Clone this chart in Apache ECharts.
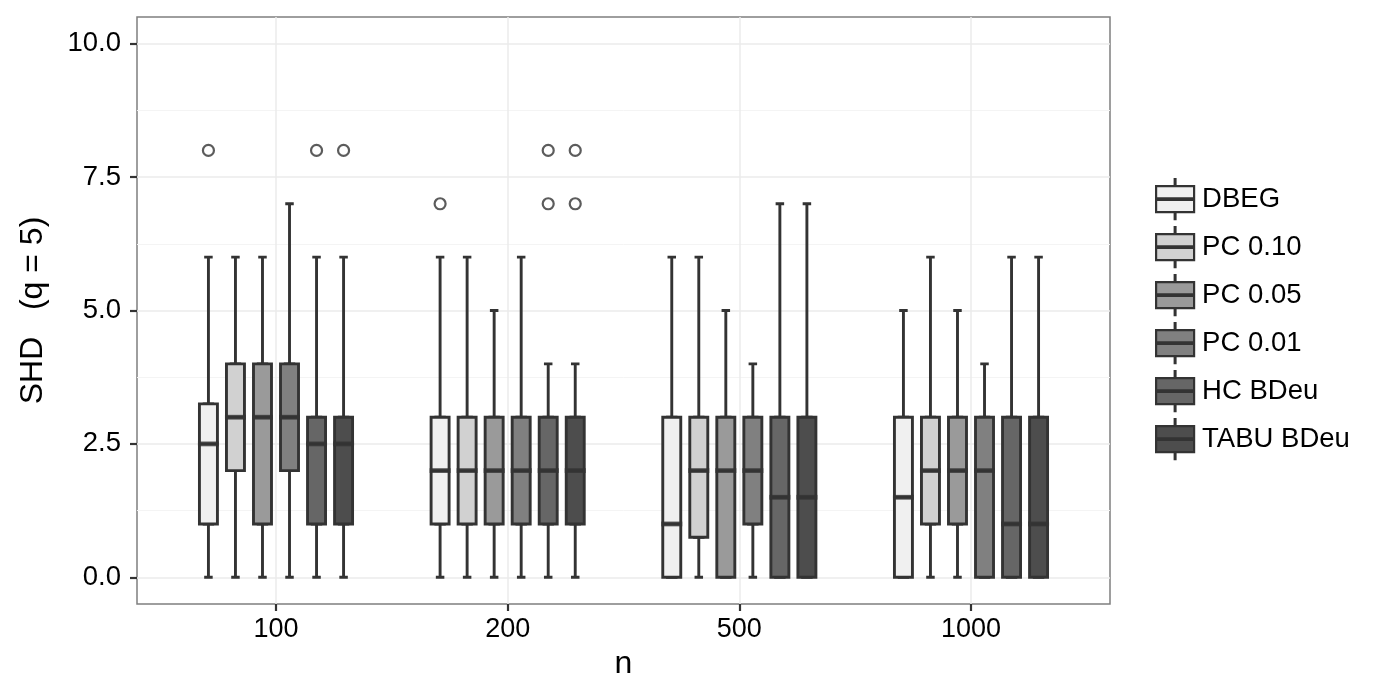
<!DOCTYPE html>
<html>
<head>
<meta charset="utf-8">
<script src="https://cdn.jsdelivr.net/npm/echarts@6/dist/echarts.min.js"></script>
<style>
html,body{margin:0;padding:0;background:#fff;}
#chart{width:1400px;height:700px;}
</style>
</head>
<body>
<div id="chart"></div>
<script>
// ---- data ----
const categories = ['100', '200', '500', '1000'];
const methods = ['DBEG', 'PC 0.10', 'PC 0.05', 'PC 0.01', 'HC BDeu', 'TABU BDeu'];
const yTicks = [0, 2.5, 5, 7.5, 10];
const yMinorTicks = [1.25, 3.75, 6.25, 8.75];

// [min, Q1, median, Q3, max] per n
const dbeg   = [[0, 1, 2.5, 3.25, 6], [0, 1, 2, 3, 6], [0, 0, 1, 3, 6],    [0, 0, 1.5, 3, 5]];
const pc010  = [[0, 2, 3, 4, 6],      [0, 1, 2, 3, 6], [0, 0.75, 2, 3, 6], [0, 1, 2, 3, 6]];
const pc005  = [[0, 1, 3, 4, 6],      [0, 1, 2, 3, 5], [0, 0, 2, 3, 5],    [0, 1, 2, 3, 5]];
const pc001  = [[0, 2, 3, 4, 7],      [0, 1, 2, 3, 6], [0, 1, 2, 3, 4],    [0, 0, 2, 3, 4]];
const hcBdeu = [[0, 1, 2.5, 3, 6],    [0, 1, 2, 3, 4], [0, 0, 1.5, 3, 7],  [0, 0, 1, 3, 6]];
const tabuBdeu = [[0, 1, 2.5, 3, 6],  [0, 1, 2, 3, 4], [0, 0, 1.5, 3, 7],  [0, 0, 1, 3, 6]];

// outliers: [n index, value]
const dbegOut   = [[0, 8], [1, 7]];
const pc010Out  = [];
const pc005Out  = [];
const pc001Out  = [];
const hcBdeuOut = [[0, 8], [1, 7], [1, 8]];
const tabuBdeuOut = [[0, 8], [1, 7], [1, 8]];

const boxData = [dbeg, pc010, pc005, pc001, hcBdeu, tabuBdeu];
const outData = [dbegOut, pc010Out, pc005Out, pc001Out, hcBdeuOut, tabuBdeuOut];

// ---- styling ----
const fills = ['#F0F0F0', '#D1D1D1', '#9A9A9A', '#808080', '#666666', '#4D4D4D'];
const dark = '#333333';
const FONT = '"Liberation Sans", Arial, Helvetica, sans-serif';
const LW = 2.9;
const dodge = 0.7;
const nM = methods.length;
const xPos = (c, k) => (c + 1) + (k + 0.5 - nM / 2) * dodge / nM;

const xAxes = [{
  type: 'value', gridIndex: 0, min: 0.4, max: 4.6, position: 'bottom',
  name: 'n', nameLocation: 'middle', nameGap: 44,
  nameTextStyle: {fontSize: 32, color: '#000', fontFamily: FONT},
  axisLine: {show: false, onZero: false},
  axisTick: {show: true, length: 7, lineStyle: {color: dark, width: 2.2}, customValues: [1, 2, 3, 4]},
  axisLabel: {show: true, fontSize: 27, color: '#000', fontFamily: FONT, margin: 12,
    customValues: [1, 2, 3, 4], formatter: v => categories[Math.round(v) - 1]},
  splitLine: {show: true, lineStyle: {color: '#EBEBEB', width: 1.5}},
  minorSplitLine: {show: false}
}];
for (let i = 0; i < nM * 2; i++) {
  xAxes.push({type: 'value', gridIndex: 0, min: 0.4, max: 4.6, show: false,
    axisLine: {onZero: false}, splitLine: {show: false}});
}

const series = [];
// boxes (Q1..Q3)
methods.forEach((m, k) => {
  series.push({
    name: m, type: 'boxplot', layout: 'horizontal', xAxisIndex: 1 + k, yAxisIndex: 0,
    boxWidth: [18, 18], z: 3,
    itemStyle: {color: fills[k], borderColor: dark, borderWidth: LW},
    emphasis: {disabled: true},
    data: boxData[k].map((d, c) => [xPos(c, k), d[1], d[1], d[2], d[3], d[3]])
  });
});
// whiskers + caps
methods.forEach((m, k) => {
  series.push({
    name: m, type: 'boxplot', layout: 'horizontal', xAxisIndex: 1 + nM + k, yAxisIndex: 0,
    boxWidth: [8.5, 8.5], z: 2,
    itemStyle: {color: fills[k], borderColor: dark, borderWidth: LW},
    emphasis: {disabled: true},
    data: boxData[k].map((d, c) => [xPos(c, k), d[0], d[1], d[2], d[3], d[4]])
  });
});
// medians (thick)
methods.forEach((m, k) => {
  series.push({
    name: m, type: 'scatter', xAxisIndex: 0, yAxisIndex: 0, z: 4,
    symbol: 'rect', symbolSize: [21, 4.8],
    itemStyle: {color: dark},
    emphasis: {disabled: true}, silent: true,
    data: boxData[k].map((d, c) => [xPos(c, k), d[2]])
  });
});
// outliers
methods.forEach((m, k) => {
  series.push({
    name: m, type: 'scatter', xAxisIndex: 0, yAxisIndex: 0, z: 4,
    symbol: 'circle', symbolSize: 11,
    itemStyle: {color: '#ffffff', borderColor: dark, borderWidth: 2.2},
    emphasis: {disabled: true}, silent: true,
    data: outData[k].map(o => [xPos(o[0], k), o[1]])
  });
});

const legendIcon = 'path://M18.6,0 L19.4,0 L19.4,7 L18.6,7 Z M0,7 L38,7 L38,19.2 L0,19.2 Z M0,20.8 L38,20.8 L38,33 L0,33 Z M18.6,33 L19.4,33 L19.4,40 L18.6,40 Z';

const option = {
  animation: false,
  backgroundColor: '#ffffff',
  grid: {left: 137, top: 17, width: 973, height: 587, show: true,
    borderColor: '#7F7F7F', borderWidth: 1.5, backgroundColor: 'transparent', containLabel: false},
  xAxis: xAxes,
  yAxis: [{
    type: 'value', min: -0.5, max: 10.5, position: 'left',
    name: 'SHD   (q = 5)', nameLocation: 'middle', nameGap: 88, nameRotate: 90,
    nameTextStyle: {fontSize: 32, color: '#000', fontFamily: FONT},
    axisLine: {show: false, onZero: false},
    axisTick: {show: true, length: 7, lineStyle: {color: dark, width: 2.2}, customValues: yTicks},
    axisLabel: {show: true, fontSize: 27.5, color: '#000', fontFamily: FONT, margin: 16,
      customValues: yTicks, formatter: v => v.toFixed(1)},
    splitLine: {show: true, lineStyle: {color: '#EBEBEB', width: 1.5}},
    minorSplitLine: {show: false}
  }, {
    type: 'value', min: -0.5, max: 10.5, position: 'left',
    axisLine: {show: false, onZero: false},
    axisTick: {show: false, customValues: yMinorTicks},
    axisLabel: {show: false, customValues: yMinorTicks},
    splitLine: {show: true, lineStyle: {color: '#F4F4F4', width: 1}}
  }],
  legend: {
    orient: 'vertical', left: 1150, top: 173,
    itemWidth: 38, itemHeight: 40, itemGap: 5.8,
    icon: legendIcon,
    data: methods.map((m, k) => ({
      name: m,
      itemStyle: {color: fills[k], borderColor: dark, borderWidth: 2.2, opacity: 1}
    })),
    itemStyle: {borderColor: dark, borderWidth: 2.2},
    textStyle: {fontSize: 27.5, color: '#000', fontFamily: FONT, padding: [0, 0, 0, 3]},
    selectedMode: false
  },
  series: series
};

const chart = echarts.init(document.getElementById('chart'), null, {renderer: 'canvas'});
chart.setOption(option);
</script>
</body>
</html>
